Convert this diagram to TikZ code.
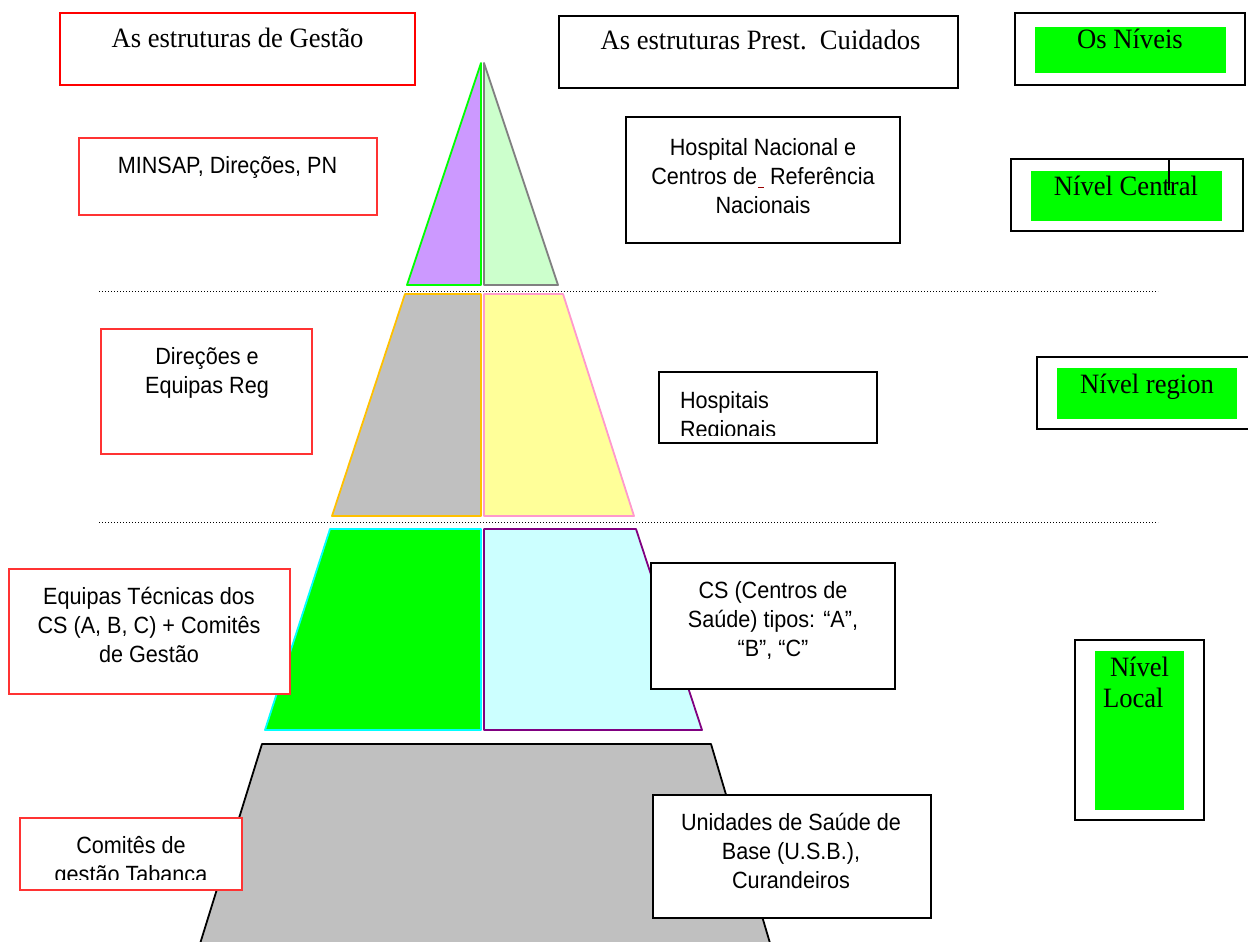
\documentclass[tikz,border=0pt]{standalone}
\usepackage{fontspec}
\setmainfont{Liberation Serif}[FakeStretch=0.95]
\newfontfamily\arialf{Liberation Sans}[FakeStretch=0.92]
\definecolor{lilac}{HTML}{CC99FF}
\definecolor{palegreen}{HTML}{CCFFCC}
\definecolor{brightgreen}{HTML}{00FF00}
\definecolor{midgray}{HTML}{808080}
\definecolor{silver}{HTML}{C0C0C0}
\definecolor{amber}{HTML}{FFC000}
\definecolor{paleyellow}{HTML}{FFFF99}
\definecolor{rosepink}{HTML}{FF99CC}
\definecolor{aqua}{HTML}{00FFFF}
\definecolor{palecyan}{HTML}{CCFFFF}
\definecolor{plum}{HTML}{800080}
\definecolor{darkred}{HTML}{990000}
\definecolor{boxred}{HTML}{FF3333}
\begin{document}
\begin{tikzpicture}[x=1pt,y=-1pt,
  sertxt/.style={font=\fontsize{28}{31}\selectfont, inner sep=0pt, outer sep=0pt},
  ariatxt/.style={font=\arialf\fontsize{23.5}{29}\selectfont, align=center, inner sep=0pt, outer sep=0pt},
  blkbox/.style={draw=black, line width=2pt, fill=white, inner sep=0pt, outer sep=0pt},
  redbox/.style={draw=boxred, line width=1.3pt, fill=white, inner sep=0pt, outer sep=0pt},
  bigredbox/.style={draw=red, line width=2.5pt, fill=white, inner sep=0pt, outer sep=0pt},
  greenpad/.style={fill=brightgreen, inner sep=0pt, outer sep=0pt},
  dotline/.style={line width=1pt, dash pattern=on 1pt off 2pt},
  pyr/.style={line width=1.8pt, line join=round}]
\useasboundingbox (0,0) rectangle (1248,942);
\clip (0,0) rectangle (1248,942);

% ---- pyramid ----
\draw[pyr, draw=brightgreen, fill=lilac] (407,285) -- (481,63) -- (481,285) -- cycle;
\draw[pyr, draw=midgray, fill=palegreen] (484,63) -- (558,285) -- (484,285) -- cycle;
\draw[pyr, draw=amber, fill=silver] (405,294) -- (481,294) -- (481,516) -- (332,516) -- cycle;
\draw[pyr, draw=rosepink, fill=paleyellow] (484,294) -- (563,294) -- (634,516) -- (484,516) -- cycle;
\draw[pyr, draw=aqua, fill=brightgreen] (330,529) -- (481,529) -- (481,730) -- (265,730) -- cycle;
\draw[pyr, draw=plum, fill=palecyan] (484,529) -- (636,529) -- (702,730) -- (484,730) -- cycle;
\draw[pyr, draw=black, fill=silver] (262,744) -- (711,744) -- (775,960) -- (195,960) -- cycle;

% ---- dotted level separators ----
\coordinate (d1l) at (99,291); \coordinate (d1r) at (1158,291);
\coordinate (d2l) at (99,522); \coordinate (d2r) at (1158,522);
\draw[dotline] (d1l) -- (d1r);
\draw[dotline] (d2l) -- (d2r);

% ---- headers ----
\node[bigredbox, minimum width=355pt, minimum height=72pt] (gest) at (237.5,49) {};
\node[sertxt, anchor=base] (gestt) at (237.5,48) {As estruturas de Gestão};

\node[blkbox, minimum width=399pt, minimum height=72pt] (prest) at (758.5,52) {};
\node[sertxt, anchor=base] (prestt) at (760.5,50) {As estruturas Prest.\ \ Cuidados};

\node[blkbox, minimum width=230pt, minimum height=72pt] (niveisout) at (1130,49) {};
\node[greenpad, minimum width=191pt, minimum height=46pt] (niveis) at (1130.5,50) {};
\node[sertxt, anchor=base] (niveist) at (1130,49) {Os Níveis};

% ---- central level ----
\node[redbox, minimum width=298pt, minimum height=77pt] (minsap) at (228,176.5) {};
\node[ariatxt, anchor=base] (minsapt) at (227.5,173) {MINSAP, Direções, PN};

\node[blkbox, minimum width=274pt, minimum height=126pt] (hnac) at (763,180) {};
\node[ariatxt, anchor=north] (hnact) at (763,138) {Hospital Nacional e\\Centros de\hspace{1pt}\textcolor{darkred}{\rule[-4pt]{6pt}{1.5pt}}\ Referência\\Nacionais};

\node[blkbox, minimum width=232pt, minimum height=72pt] (centralout) at (1127,195) {};
\node[greenpad, minimum width=191pt, minimum height=50pt] (central) at (1126.5,195.5) {};
\node[sertxt, anchor=base] (centralt) at (1126,195) {Nível Central};
\coordinate (tickA) at (1169,158); \coordinate (tickB) at (1169,190);
\draw[line width=2pt] (tickA) -- (tickB);

% ---- regional level ----
\node[redbox, minimum width=211pt, minimum height=125pt] (direg) at (206.5,391.5) {};
\node[ariatxt, anchor=north] (diregt) at (207,347) {Direções e\\Equipas Reg};

\node[blkbox, minimum width=218pt, minimum height=71pt] (hreg) at (768,407.5) {};
\begin{scope}
  \clip (660,373) rectangle (876,435);
  \node[ariatxt, align=left, anchor=north west] (hregt) at (680,391) {Hospitais\\Regionais};
\end{scope}

\node[blkbox, minimum width=225pt, minimum height=72pt] (regout) at (1149.5,393) {};
\node[greenpad, minimum width=180pt, minimum height=51pt] (region) at (1147,393.5) {};
\node[sertxt, anchor=base] (regiont) at (1147,393) {Nível region};

% ---- local level ----
\node[redbox, minimum width=281pt, minimum height=125pt] (eqtec) at (149.5,631.5) {};
\node[ariatxt, anchor=north] (eqtect) at (149,587) {Equipas Técnicas dos\\CS (A, B, C) + Comitês\\de Gestão};

\node[blkbox, minimum width=244pt, minimum height=126pt] (cs) at (773,626) {};
\node[ariatxt, anchor=north] (cst) at (773,581) {CS (Centros de\\Saúde) tipos: “A”,\\“B”, “C”};

\node[blkbox, minimum width=129pt, minimum height=180pt] (localout) at (1139.5,730) {};
\node[greenpad, minimum width=89pt, minimum height=159pt] (local) at (1139.5,730.5) {};
\node[sertxt, align=left, anchor=north west] (localt) at (1103,657) {\hspace*{7pt}Nível\\Local};

% ---- base level ----
\node[redbox, minimum width=222pt, minimum height=72pt] (comites) at (131,854) {};
\begin{scope}
  \clip (21,819) rectangle (241,879);
  \node[ariatxt, anchor=north] (comitest) at (131,836) {Comitês de\\gestão Tabanca};
\end{scope}

\node[blkbox, minimum width=278pt, minimum height=123pt] (usb) at (792,856.5) {};
\node[ariatxt, anchor=north] (usbt) at (791,813) {Unidades de Saúde de\\Base (U.S.B.),\\Curandeiros};
\end{tikzpicture}
\end{document}
